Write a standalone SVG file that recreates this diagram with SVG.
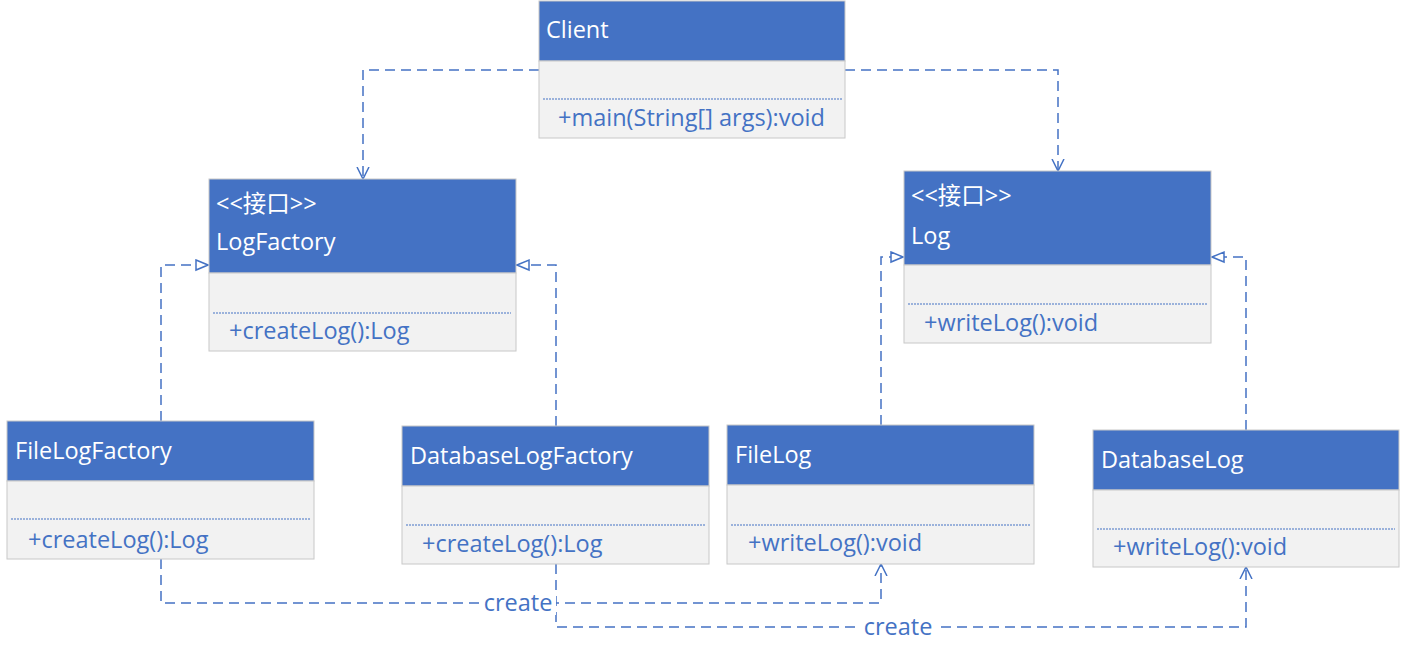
<svg xmlns="http://www.w3.org/2000/svg" width="1401" height="659" viewBox="0 0 1401 659">
<style>
.hd{fill:#4472C4;stroke:#C8C8C8;stroke-width:1}
.bd{fill:#F2F2F2;stroke:#C8C8C8;stroke-width:1}
.sep{stroke:#4472C4;stroke-width:1;stroke-dasharray:2 1}
.t{font-family:"Open Sans","Noto Sans CJK SC",sans-serif;font-size:23.5px;fill:#FFFFFF}
.m{font-family:"Open Sans","Noto Sans CJK SC",sans-serif;font-size:23.5px;fill:#4472C4}
.c{fill:none;stroke:#4472C4;stroke-width:1.5;stroke-dasharray:10 6}
.lbl{font-family:"Open Sans",sans-serif;font-size:23.5px;fill:#4472C4}
</style>
<defs>
<marker id="open" viewBox="0 0 12 16" refX="12" refY="8" markerWidth="12" markerHeight="16" markerUnits="userSpaceOnUse" orient="auto">
<path d="M0,2 L12,8 L0,14" fill="none" stroke="#4472C4" stroke-width="1.5"/>
</marker>
<marker id="tri" viewBox="0 0 14 14" refX="14" refY="7" markerWidth="14" markerHeight="14" markerUnits="userSpaceOnUse" orient="auto">
<path d="M1,2 L13,7 L1,12 Z" fill="#FFFFFF" stroke="#4472C4" stroke-width="1.5"/>
</marker>
</defs>
<rect width="1401" height="659" fill="#FFFFFF"/>
<g id="connectors">
<path class="c" d="M539,70 H363 V179" marker-end="url(#open)"/>
<path class="c" d="M845,70 H1058 V171" marker-end="url(#open)"/>
<path class="c" d="M161,421 V265 H209" marker-end="url(#tri)"/>
<path class="c" d="M556,426 V265 H516" marker-end="url(#tri)"/>
<path class="c" d="M881,425 V257 H904" marker-end="url(#tri)"/>
<path class="c" d="M1246,430 V257 H1211" marker-end="url(#tri)"/>
<path class="c" d="M161,559 V603 H881 V564" marker-end="url(#open)"/>
<path class="c" d="M556,564 V627 H1246 V567" marker-end="url(#open)"/>
<rect x="480" y="591" width="76" height="24" fill="#FFFFFF"/>
<text class="lbl" x="518" y="611" text-anchor="middle">create</text>
<rect x="859" y="615" width="78" height="24" fill="#FFFFFF"/>
<text class="lbl" x="898" y="635" text-anchor="middle">create</text>
</g>
<g id="Client">
<rect class="hd" x="539" y="1" width="306" height="60"/>
<rect class="bd" x="539" y="61" width="306" height="77"/>
<line class="sep" x1="543" y1="99" x2="842" y2="99"/>
<text class="t" x="546" y="38">Client</text>
<text class="m" x="558" y="126">+main(String[] args):void</text>
</g>
<g id="LogFactory">
<rect class="hd" x="209" y="179" width="307" height="94"/>
<rect class="bd" x="209" y="273" width="307" height="78"/>
<line class="sep" x1="213" y1="313" x2="511" y2="313"/>
<text class="t" x="216" y="212">&lt;&lt;接口&gt;&gt;</text>
<text class="t" x="216" y="250">LogFactory</text>
<text class="m" x="229" y="339">+createLog():Log</text>
</g>
<g id="Log">
<rect class="hd" x="904" y="171" width="307" height="94"/>
<rect class="bd" x="904" y="265" width="307" height="78"/>
<line class="sep" x1="908" y1="304" x2="1207" y2="304"/>
<text class="t" x="911" y="204">&lt;&lt;接口&gt;&gt;</text>
<text class="t" x="911" y="244">Log</text>
<text class="m" x="924" y="331">+writeLog():void</text>
</g>
<g id="FileLogFactory">
<rect class="hd" x="7" y="421" width="307" height="60"/>
<rect class="bd" x="7" y="481" width="307" height="78"/>
<line class="sep" x1="11" y1="519" x2="310" y2="519"/>
<text class="t" x="15" y="459">FileLogFactory</text>
<text class="m" x="28" y="548">+createLog():Log</text>
</g>
<g id="DatabaseLogFactory">
<rect class="hd" x="402" y="426" width="307" height="60"/>
<rect class="bd" x="402" y="486" width="307" height="78"/>
<line class="sep" x1="406" y1="525" x2="705" y2="525"/>
<text class="t" x="410" y="464">DatabaseLogFactory</text>
<text class="m" x="422" y="552">+createLog():Log</text>
</g>
<g id="FileLog">
<rect class="hd" x="727" y="425" width="307" height="60"/>
<rect class="bd" x="727" y="485" width="307" height="79"/>
<line class="sep" x1="731" y1="525" x2="1030" y2="525"/>
<text class="t" x="735" y="463">FileLog</text>
<text class="m" x="748" y="551">+writeLog():void</text>
</g>
<g id="DatabaseLog">
<rect class="hd" x="1093" y="430" width="306" height="60"/>
<rect class="bd" x="1093" y="490" width="306" height="77"/>
<line class="sep" x1="1097" y1="529" x2="1395" y2="529"/>
<text class="t" x="1101" y="468">DatabaseLog</text>
<text class="m" x="1113" y="555">+writeLog():void</text>
</g>
</svg>
